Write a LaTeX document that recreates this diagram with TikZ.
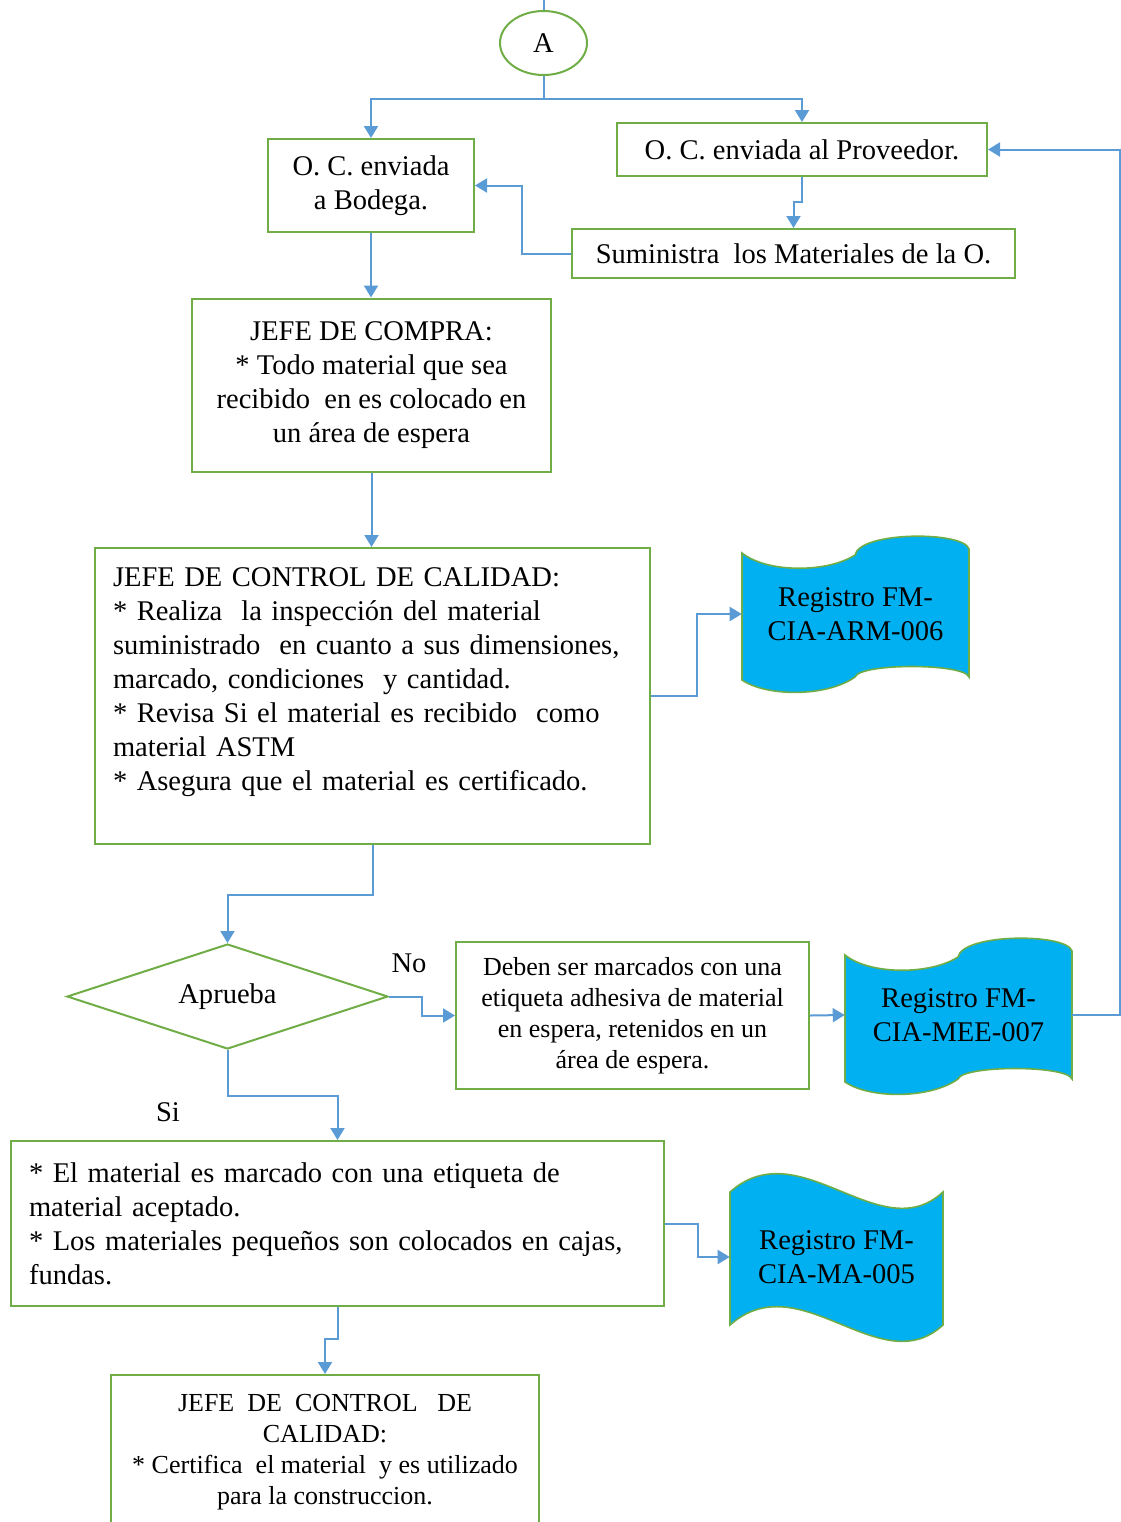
\documentclass[tikz,border=0pt]{standalone}
\usepackage{fontspec}
\setmainfont{Liberation Serif}
\usetikzlibrary{arrows.meta,calc,positioning,shapes.geometric}
\definecolor{boxgreen}{HTML}{70AD47}
\definecolor{linkblue}{HTML}{5B9BD5}
\definecolor{docblue}{HTML}{00B0F0}

% tape shaped record (227 x 158 px)
\newcommand{\tapeshape}[2]{%
  \begin{scope}[shift={(#1,#2)}]
  \filldraw[docline] (0,18) .. controls (25,38) and (85,38) .. (113,20)
    .. controls (118,-4) and (222,-4) .. (227,14) -- (227,142)
    .. controls (222,128) and (118,128) .. (113,142)
    .. controls (85,162) and (25,162) .. (0,145) -- cycle;
  \end{scope}}
% wave shaped record (213 x 180 px)
\newcommand{\waveshape}[2]{%
  \begin{scope}[shift={(#1,#2)}]
  \filldraw[docline] (0,25) .. controls (70,-37) and (150,83) .. (213,25)
    -- (213,158) .. controls (150,216) and (70,96) .. (0,158) -- cycle;
  \end{scope}}

\begin{document}
\begin{tikzpicture}[x=0.75pt,y=-0.75pt,
  box/.style={draw=boxgreen,line width=1.5pt,align=center,inner sep=0pt},
  docline/.style={draw=boxgreen,fill=docblue,line width=1.2pt},
  doc/.style={inner sep=0pt,align=center},
  link/.style={draw=linkblue,line width=1.5pt,-{Triangle[length=9pt,width=10.5pt]}},
  big/.style={font=\fontsize{21.4}{25.5}\selectfont},
  small/.style={font=\fontsize{19.5}{23.25}\selectfont}]
\useasboundingbox (0,0) rectangle (1121,1522);

% start
\node[draw=boxgreen,line width=1.5pt,ellipse,minimum width=65.25pt,minimum height=48pt,inner sep=0pt,big] (A) at (543.5,43) {A};

% orders
\node[box,big,minimum width=154.5pt,minimum height=69.75pt] (bod) at (371,185.5) {O. C. enviada\\ a Bodega.};
\node[box,big,minimum width=277.5pt,minimum height=39.75pt] (prov) at (802,149.5) {O. C. enviada al Proveedor.};
\node[box,big,minimum width=332.25pt,minimum height=36.75pt] (sumi) at (793.5,253.5) {Suministra\ \ los Materiales de la O.};

% purchasing
\node[box,big,minimum width=269.25pt,minimum height=129.75pt] (compra) at (371.5,385) {JEFE DE COMPRA:\\ {*} Todo material que sea\\ recibido\ \ en es colocado en\\ un área de espera};

% quality control
\node[box,big,align=left,inner xsep=13.5pt,text width=389.25pt,minimum height=222pt] (cal) at (372.5,696) {JEFE DE CONTROL DE CALIDAD:\\ {*} Realiza\ \ la inspección del material\\ suministrado\ \ en cuanto a sus dimensiones,\\ marcado, condiciones\ \ y cantidad.\\ {*} Revisa Si el material es recibido\ \ como\\ material ASTM\\ {*} Asegura que el material es certificado.\\ \mbox{}};

\tapeshape{742}{535}
\node[doc,big,minimum width=170.25pt,minimum height=118.5pt] (arm) at (855.5,614) {Registro FM-\\ CIA-ARM-006};

% decision
\node[box,diamond,aspect=3,minimum width=240.75pt,minimum height=78.75pt,big] (dia) at (227.5,996.5) {Aprueba};
\node[big] (nolab) at (409,963) {No};
\node[big] (silab) at (168,1112) {Si};

\node[box,small,minimum width=264.75pt,minimum height=110.25pt] (deb) at (632.5,1015.5) {Deben ser marcados con una\\ etiqueta adhesiva de material\\ en espera, retenidos en un\\ área de espera.};

\tapeshape{845}{937}
\node[doc,big,minimum width=170.25pt,minimum height=117pt] (mee) at (958.5,1015) {Registro FM-\\ CIA-MEE-007};

% accepted material
\node[box,big,align=left,inner xsep=13.5pt,text width=462.75pt,minimum height=123.75pt] (mat) at (337.5,1223.5) {{*} El material es marcado con una etiqueta de\\ material aceptado.\\ {*} Los materiales pequeños son colocados en cajas,\\ fundas.};

\waveshape{730}{1167}
\node[doc,big,minimum width=159.75pt,minimum height=135pt] (ma) at (836.5,1257) {Registro FM-\\ CIA-MA-005};

\node[box,small,minimum width=321pt,minimum height=116.25pt] (fin) at (325,1452.5) {JEFE\ \ DE\ \ CONTROL\ \ \ DE\\ CALIDAD:\\ {*} Certifica\ \ el material\ \ y es utilizado\\ para la construccion.};

% connectors
\coordinate (topend) at (543.5,0);
\draw[link,-] (topend) -- (A);
\draw[link,-] (A.south) -- ++(0,23) coordinate (split);
\draw[link] (split) -| (bod.north);
\draw[link] (split) -| (prov.north);
\draw[link] (prov.south) -- ++(0,25) -| (sumi.north);
\draw[link] (sumi.west) -- ++(-49,0) |- (bod.east);
\draw[link] (bod.south) -- (bod.south |- compra.north);
\draw[link] (compra.south) -- (compra.south |- cal.north);
\draw[link] (cal.east) -- ++(46,0) |- (arm.west);
\draw[link] (cal.south) -- ++(0,50) -| (dia.north);
\draw[link] (dia.east) -- ++(33,0) |- (deb.west);
\draw[link] (deb.east) -- (mee.west);
\draw[link] (mee.east) -- ++(48,0) |- (prov.east);
\draw[link] (dia.south) -- ++(0,46) -| (mat.north);
\draw[link] (mat.east) -- ++(33,0) |- (ma.west);
\draw[link] (mat.south) -- ++(0,32) -| (fin.north);
\end{tikzpicture}
\end{document}
